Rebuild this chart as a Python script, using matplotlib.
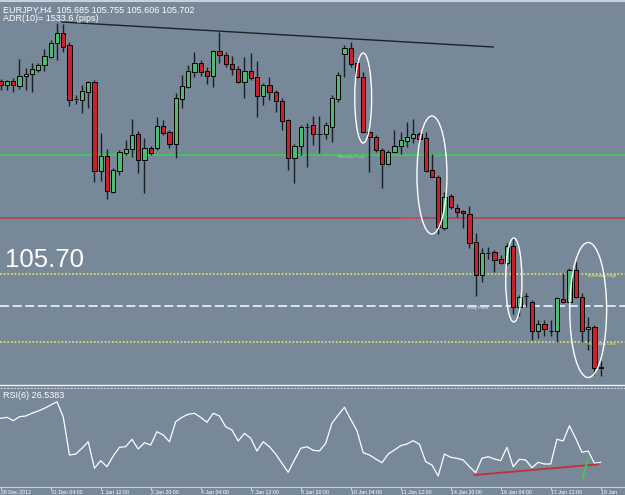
import numpy as np
import matplotlib.pyplot as plt
from matplotlib.patches import Ellipse
from matplotlib.lines import Line2D
from matplotlib import font_manager

# EURJPY H4 bars
opens = [108.56, 108.52, 108.56, 108.51, 108.61, 108.63, 108.67, 108.72, 108.80, 108.94,
         109.04, 108.92, 108.38, 108.37, 108.45, 108.55, 107.66, 107.81, 107.45, 107.66,
         107.84, 107.88, 108.03, 107.77, 107.89, 107.89, 108.11, 108.05, 107.93, 108.38,
         108.50, 108.65, 108.74, 108.66, 108.61, 108.86, 108.82, 108.73, 108.68, 108.55,
         108.66, 108.60, 108.41, 108.52, 108.45, 108.36, 108.17, 107.79, 107.91, 108.10,
         108.12, 108.03, 108.03, 108.10, 108.38, 108.83, 108.89, 108.74, 108.60, 108.05,
         108.00, 107.87, 107.73, 107.85, 107.91, 107.96, 107.99, 108.03, 107.99, 107.67,
         107.60, 107.09, 107.41, 107.29, 107.26, 107.23, 106.95, 106.62, 106.84, 106.85,
         106.78, 106.74, 106.91, 106.30, 106.41, 106.35, 106.06, 106.13, 106.06, 106.06,
         106.38, 106.35, 106.67, 106.40, 106.08, 106.10, 105.685]
highs = [108.58, 108.57, 108.59, 108.78, 108.69, 108.74, 108.74, 108.88, 108.97, 109.14,
         109.13, 108.95, 108.42, 108.52, 108.56, 108.57, 108.04, 107.88, 107.69, 107.87,
         107.97, 108.18, 108.06, 107.99, 107.91, 108.20, 108.17, 108.07, 108.44, 108.62,
         108.72, 108.85, 108.77, 108.70, 108.87, 109.05, 108.85, 108.81, 108.71, 108.80,
         108.84, 108.76, 108.54, 108.60, 108.47, 108.39, 108.18, 107.93, 108.12, 108.14,
         108.21, 108.21, 108.15, 108.42, 108.65, 108.92, 108.95, 108.77, 108.65, 108.07,
         108.02, 107.89, 107.87, 108.07, 108.05, 108.15, 108.18, 108.05, 108.05, 107.83,
         107.62, 107.45, 107.43, 107.33, 107.27, 107.31, 107.04, 106.89, 106.90, 106.87,
         106.82, 106.94, 106.99, 106.42, 106.44, 106.37, 106.17, 106.17, 106.17, 106.40,
         106.64, 106.69, 106.75, 106.44, 106.20, 106.12, 105.755]
lows = [108.47, 108.47, 108.45, 108.48, 108.47, 108.45, 108.65, 108.66, 108.79, 108.77,
        108.85, 108.31, 108.33, 108.24, 108.29, 107.55, 107.56, 107.38, 107.44, 107.62,
        107.82, 107.80, 107.64, 107.44, 107.82, 107.87, 108.02, 107.89, 107.79, 108.29,
        108.49, 108.60, 108.61, 108.53, 108.50, 108.74, 108.70, 108.62, 108.54, 108.39,
        108.57, 108.20, 108.32, 108.37, 108.25, 108.07, 107.67, 107.54, 107.82, 107.70,
        107.92, 107.84, 107.98, 107.95, 108.35, 108.60, 108.70, 108.59, 108.04, 107.65,
        107.85, 107.49, 107.72, 107.84, 107.83, 107.90, 107.94, 107.94, 107.65, 107.60,
        107.03, 107.07, 107.28, 107.20, 107.09, 106.89, 106.41, 106.55, 106.78, 106.65,
        106.73, 106.72, 106.23, 106.21, 106.30, 105.97, 105.99, 106.01, 106.01, 105.95,
        106.34, 106.34, 106.39, 105.95, 105.87, 105.62, 105.606]
closes = [108.52, 108.56, 108.52, 108.61, 108.63, 108.68, 108.72, 108.81, 108.94, 109.04,
          108.90, 108.37, 108.38, 108.46, 108.55, 107.66, 107.81, 107.46, 107.67, 107.85,
          107.88, 108.02, 107.77, 107.89, 107.84, 108.11, 108.04, 107.93, 108.39, 108.51,
          108.66, 108.74, 108.65, 108.61, 108.86, 108.82, 108.73, 108.68, 108.55, 108.66,
          108.59, 108.41, 108.52, 108.45, 108.36, 108.16, 107.79, 107.91, 108.10, 108.10,
          108.03, 108.03, 108.12, 108.39, 108.62, 108.89, 108.73, 108.60, 108.05, 108.00,
          107.87, 107.73, 107.85, 107.91, 107.97, 108.00, 108.03, 107.98, 107.66, 107.60,
          107.10, 107.40, 107.30, 107.25, 107.24, 106.94, 106.62, 106.84, 106.84, 106.77,
          106.74, 106.91, 106.30, 106.40, 106.41, 106.06, 106.13, 106.08, 106.06, 106.39,
          106.35, 106.67, 106.40, 106.06, 106.10, 105.69, 105.702]

# RSI(6)
rsi_values = [70.5, 71.5, 68.1, 72.1, 72.8, 75.5, 77.8, 80.5, 83.8, 87.1,
              72.1, 33.8, 34.8, 40.5, 47.1, 20.5, 28.1, 22.1, 32.8, 41.5,
              42.1, 49.5, 39.8, 46.1, 43.8, 57.1, 53.8, 47.1, 67.1, 71.5,
              74.5, 75.5, 71.5, 66.5, 75.5, 72.8, 62.1, 58.8, 47.8, 55.5,
              50.5, 37.8, 47.1, 42.1, 34.8, 25.5, 16.5, 28.8, 40.5, 42.1,
              38.5, 37.8, 45.5, 65.5, 73.8, 81.5, 69.5, 58.1, 36.1, 33.8,
              29.8, 26.1, 34.8, 38.8, 43.1, 44.8, 48.1, 44.5, 27.1, 23.8,
              12.8, 34.8, 31.5, 30.5, 28.8, 22.1, 16.1, 30.5, 32.1, 29.8,
              28.1, 41.5, 22.1, 29.5, 28.8, 21.1, 26.5, 24.8, 24.8, 49.5,
              47.8, 63.1, 50.5, 36.5, 37.8, 25.5, 26.54]

# pivot levels
monthly_pivot = 107.82
monthly_s1 = 107.19
yesterday_high = 106.63
daily_pivot = 106.31
yesterday_low = 105.95

# hand drawn lines (bar index, value)
trend_bars = [9.8, 78.8]
trend_prices = [109.15, 108.90]
rsi_trend_bars = [75.8, 95.6]
rsi_trend_values = [13.8, 24.5]
rsi_break_bars = [93.1, 94.0]
rsi_break_values = [10.5, 30.2]

# circled moves: centre bar, centre price, width (bars), height (price)
circle_bars = [58.0, 69.0, 82.1, 94.0]
circle_prices = [108.39, 107.62, 106.57, 106.27]
circle_widths = [2.7, 4.8, 2.6, 5.9]
circle_heights = [0.90, 1.18, 0.84, 1.35]

tick_bars = list(range(0, 97, 8))
tick_labels = ["28 Dec 2012", "31 Dec 04:00", "1 Jan 12:00", "2 Jan 20:00", "4 Jan 04:00",
               "7 Jan 12:00", "8 Jan 20:00", "10 Jan 04:00", "11 Jan 12:00", "14 Jan 20:00",
               "16 Jan 04:00", "17 Jan 12:00", "18 Jan"]

BG = '#778899'
GREEN = '#4fba72'
RED = '#c8232c'
H = 495.0
plt.rcParams['font.family'] = ['Liberation Sans', 'DejaVu Sans']

# narrow font for the small terminal-style labels, if there is one
names = {f.name for f in font_manager.fontManager.ttflist}
SMALL = ['Liberation Sans Narrow', 'Liberation Sans'] if 'Liberation Sans Narrow' in names else ['Liberation Sans']

fig = plt.figure(figsize=(6.25, 4.95), dpi=100, facecolor=BG)

# Price panel
ax = fig.add_axes([0, (H - 384) / H, 1, 380 / H])
ax.set_facecolor(BG)
ax.set_xlim(-0.112, 99.89)
ax.set_ylim(105.53, 109.33)
ax.axis('off')

x = np.arange(len(opens))
o = np.array(opens)
c = np.array(closes)
up = c >= o
ax.vlines(x, lows, highs, color='#182026', lw=1, zorder=3)
ax.bar(x, np.abs(c - o), bottom=np.minimum(o, c), width=0.66,
       color=np.where(up, GREEN, RED), edgecolor='black', linewidth=0.7, zorder=4)

ax.axhline(monthly_pivot, color='#45c25e', lw=1.5, zorder=1)
ax.axhline(monthly_s1, color='#b2404f', lw=1.1, zorder=1)
ax.axhline(yesterday_high, color='#d8dc66', lw=1.3, ls=(0, (1, 1)), zorder=1)
ax.axhline(yesterday_low, color='#d8dc66', lw=1.3, ls=(0, (1, 1)), zorder=1)
ax.axhline(daily_pivot, color='#e6ecf0', lw=1.3, ls=(0, (5.0, 2.0)), zorder=1)

ax.text(54, monthly_pivot, 'Monthly Pivot', fontsize=3.2, color='#7df08a', va='top', family=SMALL)
ax.text(64, monthly_s1, 'Monthly S1', fontsize=3.2, color='#e0606c', va='center', family=SMALL)
ax.text(74.6, daily_pivot, 'Daily Pivot', fontsize=3.2, color='#eef2f6', va='top', family=SMALL)
ax.text(93.8, yesterday_high, 'Yesterday High', fontsize=3.2, color='#eaec80', va='top', family=SMALL)
ax.text(93.8, yesterday_low, 'Yesterday Low', fontsize=3.2, color='#eaec80', va='top', family=SMALL)

ax.plot(trend_bars, trend_prices, color='#1c2126', lw=1, zorder=5)
for cx, cy, w, hgt in zip(circle_bars, circle_prices, circle_widths, circle_heights):
    ax.add_patch(Ellipse((cx, cy), w, hgt, fill=False, edgecolor='white', lw=1, zorder=6))

# Texts on the price panel
fig.text(3 / 625, 1 - 13 / H,
         f"EURJPY,H4  {opens[-1]:.3f} {highs[-1]:.3f} {lows[-1]:.3f} {closes[-1]:.3f}",
         fontsize=6.5, color='white', va='baseline', family=SMALL)
fig.text(3 / 625, 1 - 21 / H, "ADR(10)= 1533.6 (pips)", fontsize=6.5, color='white',
         va='baseline', family=SMALL)
fig.text(5 / 625, 1 - 266.7 / H, f"{closes[-1]:.2f}", fontsize=18.5, color='white', va='baseline')

# RSI panel
ax2 = fig.add_axes([0, 8 / H, 1, 99 / H])
ax2.set_facecolor(BG)
ax2.plot(x, rsi_values, color='white', lw=0.9)
ax2.plot(rsi_trend_bars, rsi_trend_values, color='#c0303a', lw=1.3)
ax2.plot(rsi_break_bars, rsi_break_values, color='#4cc25a', lw=1.3)
ax2.set_xlim(-0.112, 99.89)
ax2.set_ylim(1.8, 100.8)
for s in ['left', 'right', 'top']:
    ax2.spines[s].set_visible(False)
ax2.spines['bottom'].set_color('#c8d0d8')
ax2.spines['bottom'].set_linestyle((0, (2, 1)))
ax2.spines['bottom'].set_linewidth(0.8)
ax2.set_yticks([])
ax2.set_xticks(tick_bars)
ax2.set_xticklabels(tick_labels, ha='left', fontsize=3.8, color='white', family=SMALL)
ax2.tick_params(axis='x', length=2.0, color='#c8d0d8', pad=0.2)
fig.text(3 / 625, 1 - 398 / H, "RSI(6) 26.5383", fontsize=6.5, color='white',
         va='baseline', family=SMALL)

# panel borders
fig.add_artist(Line2D([0, 1], [1 - 1 / H, 1 - 1 / H], color='#c8d0d8', lw=1.5))
fig.add_artist(Line2D([0, 1], [1 - 385 / H, 1 - 385 / H], color='#eef2f4', lw=1))
fig.add_artist(Line2D([0, 1], [1 - 388 / H, 1 - 388 / H], color='#c8d0d8', lw=0.8, ls=(0, (2, 1))))

plt.savefig('out.png', dpi=100, facecolor=BG)
